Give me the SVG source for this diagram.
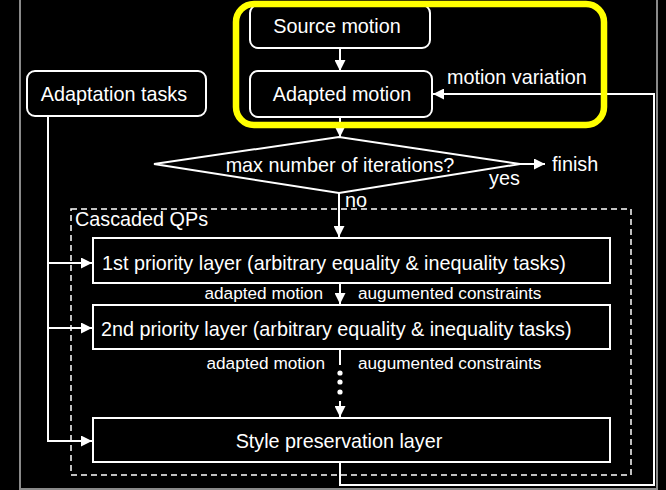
<svg xmlns="http://www.w3.org/2000/svg" width="666" height="490" viewBox="0 0 666 490">
  <style>
    text { font-family: "Liberation Sans", Arial, sans-serif; fill: #fff; }
    .box { fill: #000; stroke: #fff; stroke-width: 2; }
    .wire { fill: none; stroke: #fff; stroke-width: 2; }
    .lbl { font-size: 19.8px; }
    .big { font-size: 19.8px; }
    .sm { font-size: 17.2px; }
  </style>
  <defs>
    <marker id="arrow" viewBox="0 0 10 10" refX="10" refY="5" markerWidth="11" markerHeight="11" markerUnits="userSpaceOnUse" orient="auto">
      <path d="M0,0 L10,5 L0,10 z" fill="#fff"/>
    </marker>
  </defs>
  <rect width="666" height="490" fill="#000"/>
  <!-- outer frame -->
  <path d="M20,0 V489 H657 V0" fill="none" stroke="#8a8a8a" stroke-width="2"/>

  <!-- cascaded QP container -->
  <g id="cascaded-qps">
    <rect x="71" y="209" width="560" height="266" fill="none" stroke="#fff" stroke-width="1.5" stroke-dasharray="6,4"/>
    <text x="75" y="226" class="lbl">Cascaded QPs</text>
  </g>

  <g id="connectors">
    <!-- source -> adapted -->
    <path class="wire" d="M340,48 V71" marker-end="url(#arrow)"/>
    <!-- adapted -> decision -->
    <path class="wire" d="M340,118 V137" marker-end="url(#arrow)"/>
    <!-- decision -> finish -->
    <path class="wire" d="M520,164 H545" marker-end="url(#arrow)"/>
    <!-- decision -> first layer -->
    <path class="wire" d="M339,193 V237" marker-end="url(#arrow)"/>
    <!-- layer 1 -> layer 2 -->
    <path class="wire" d="M340,283 V304" marker-end="url(#arrow)"/>
    <!-- layer 2 -> ... -> style layer -->
    <path class="wire" d="M340,349 V365"/>
    <circle cx="340" cy="373" r="2.6" fill="#fff"/>
    <circle cx="340" cy="382" r="2.6" fill="#fff"/>
    <circle cx="340" cy="392" r="2.6" fill="#fff"/>
    <path class="wire" d="M340,401 V417" marker-end="url(#arrow)"/>
    <!-- adaptation tasks -> layers -->
    <path class="wire" d="M48,116 V441 H92" marker-end="url(#arrow)"/>
    <path class="wire" d="M48,263 H92" marker-end="url(#arrow)"/>
    <path class="wire" d="M48,328 H92" marker-end="url(#arrow)"/>
    <!-- feedback loop -->
    <path class="wire" d="M340,462 V485 H654 V94 H433" marker-end="url(#arrow)"/>
  </g>

  <g id="source-motion">
    <rect class="box" x="250" y="5" width="180" height="43" rx="8"/>
    <text x="337" y="33" text-anchor="middle" class="lbl">Source motion</text>
  </g>
  <g id="adapted-motion">
    <rect class="box" x="250" y="71" width="182" height="46" rx="8"/>
    <text x="342" y="101" text-anchor="middle" class="lbl">Adapted motion</text>
  </g>
  <g id="adaptation-tasks">
    <rect class="box" x="27" y="71" width="179" height="45" rx="8"/>
    <text x="114" y="101" text-anchor="middle" class="lbl">Adaptation tasks</text>
  </g>
  <text x="447" y="84" class="lbl">motion variation</text>

  <!-- highlight around motion boxes -->
  <rect id="highlight" x="236" y="4" width="368" height="121" rx="18" fill="none" stroke="#ffff00" stroke-width="6.5"/>

  <g id="decision">
    <path class="box" d="M154,164 L339,137 L520,164 L339,193 z"/>
    <text x="340" y="172" text-anchor="middle" class="lbl">max number of iterations?</text>
    <text x="489" y="185" class="lbl">yes</text>
    <text x="552" y="171" class="lbl">finish</text>
    <text x="345" y="207" class="lbl">no</text>
  </g>

  <g id="layer-1">
    <rect class="box" x="93" y="238" width="517" height="45"/>
    <text x="102" y="270" class="big">1st priority layer (arbitrary equality &amp; inequality tasks)</text>
  </g>
  <text x="323" y="299" text-anchor="end" class="sm">adapted motion</text>
  <text x="358" y="299" class="sm">augumented constraints</text>

  <g id="layer-2">
    <rect class="box" x="93" y="305" width="517" height="44"/>
    <text x="101" y="336" class="big">2nd priority layer (arbitrary equality &amp; inequality tasks)</text>
  </g>
  <text x="325" y="369" text-anchor="end" class="sm">adapted motion</text>
  <text x="358" y="369" class="sm">augumented constraints</text>

  <g id="style-layer">
    <rect class="box" x="93" y="418" width="517" height="44"/>
    <text x="339" y="448" text-anchor="middle" class="lbl">Style preservation layer</text>
  </g>
</svg>
